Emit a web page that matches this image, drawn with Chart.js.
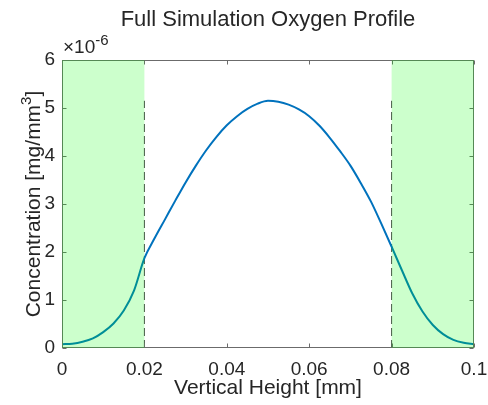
<!DOCTYPE html>
<html>
<head>
<meta charset="utf-8">
<title>Full Simulation Oxygen Profile</title>
<script src="https://cdn.jsdelivr.net/npm/chart.js@4.4.1/dist/chart.umd.min.js"></script>
<style>
  html, body { margin: 0; padding: 0; background: #fff; }
  #wrap { width: 488px; height: 405px; }
</style>
</head>
<body>
<div id="wrap"><canvas id="profile" width="488" height="405"></canvas></div>
<script>
  // Oxygen concentration across the domain height (values in 1e-6 mg/mm^3),
  // one sample every 0.0025 mm.
  const heightMm = [0, 0.0025, 0.005, 0.0075, 0.01, 0.0125, 0.015, 0.0175, 0.02,
    0.0225, 0.025, 0.0275, 0.03, 0.0325, 0.035, 0.0375, 0.04, 0.0425, 0.045, 0.0475,
    0.05, 0.0525, 0.055, 0.0575, 0.06, 0.0625, 0.065, 0.0675, 0.07, 0.0725, 0.075,
    0.0775, 0.08, 0.0825, 0.085, 0.0875, 0.09, 0.0925, 0.095, 0.0975, 0.1];
  const concentration = [0.08, 0.09, 0.13, 0.2, 0.33, 0.51, 0.78, 1.2, 1.87,
    2.29, 2.68, 3.07, 3.45, 3.8, 4.12, 4.4, 4.64, 4.83, 4.98, 5.09,
    5.15, 5.13, 5.07, 4.97, 4.83, 4.63, 4.38, 4.1, 3.8, 3.44, 3.05,
    2.59, 2.11, 1.62, 1.14, 0.76, 0.48, 0.29, 0.17, 0.11, 0.08];

  const xTicks = [0, 0.02, 0.04, 0.06, 0.08, 0.1];
  const yTicks = [0, 1, 2, 3, 4, 5, 6];

  // Boundary layers (shaded) and the interface positions (dashed)
  const boundaryZones = [[0, 0.02], [0.08, 0.1]];
  const interfaces = [0.02, 0.08];

  const FONT = "'Liberation Sans', Arial, Helvetica, sans-serif";
  const TEXT = "#262626";
  const AXIS = "#6b6b6b";
  const peak = Math.max(...concentration);

  const profilePoints = heightMm.map((x, i) => ({ x: x, y: concentration[i] }));

  const interfaceSets = interfaces.map((x) => ({
    data: [{ x: x, y: 0 }, { x: x, y: peak }],
    showLine: true,
    borderColor: "#4a4a4a",
    borderWidth: 1,
    borderDash: [8, 4],
    pointRadius: 0,
  }));

  // Box, inward ticks, translucent patches and the text around the axes
  const matlabLook = {
    id: "matlabLook",
    afterDatasetsDraw(chart) {
      const ctx = chart.ctx;
      const a = chart.chartArea;
      const xs = chart.scales.x;
      const ys = chart.scales.y;
      const L = Math.round(a.left) + 0.5, R = Math.round(a.right) - 0.5;
      const T = Math.round(a.top) + 0.5, B = Math.round(a.bottom) - 0.5;

      ctx.save();
      ctx.strokeStyle = AXIS;
      ctx.lineWidth = 1;
      ctx.strokeRect(L, T, R - L, B - T);
      ctx.beginPath();
      xTicks.forEach((v) => {
        const px = Math.round(xs.getPixelForValue(v)) + 0.5;
        ctx.moveTo(px, B); ctx.lineTo(px, B - 4);
        ctx.moveTo(px, T); ctx.lineTo(px, T + 4);
      });
      yTicks.forEach((v) => {
        const py = Math.round(ys.getPixelForValue(v)) + 0.5;
        ctx.moveTo(L, py); ctx.lineTo(L + 4, py);
        ctx.moveTo(R, py); ctx.lineTo(R - 4, py);
      });
      ctx.stroke();

      // green patches go on top, tinting the curve beneath them
      ctx.fillStyle = "rgba(0, 255, 0, 0.2)";
      boundaryZones.forEach(([x0, x1]) => {
        const p0 = xs.getPixelForValue(x0);
        const p1 = xs.getPixelForValue(x1);
        const top = ys.getPixelForValue(ys.max);
        const bot = ys.getPixelForValue(ys.min);
        ctx.fillRect(p0, top, p1 - p0, bot - top);
      });
      ctx.restore();
    },
    afterDraw(chart) {
      const ctx = chart.ctx;
      const a = chart.chartArea;
      const cx = (a.left + a.right) / 2;
      const cy = (a.top + a.bottom) / 2;
      ctx.save();
      ctx.fillStyle = TEXT;
      ctx.textBaseline = "alphabetic";

      // title
      ctx.font = "22px " + FONT;
      ctx.textAlign = "center";
      ctx.fillText("Full Simulation Oxygen Profile", cx, 26);

      // x label
      ctx.font = "21px " + FONT;
      ctx.fillText("Vertical Height [mm]", cx, 394);

      // y label with superscript
      ctx.translate(40, cy);
      ctx.rotate(-Math.PI / 2);
      ctx.textAlign = "left";
      const main = "Concentration [mg/mm";
      ctx.font = "21px " + FONT;
      const w1 = ctx.measureText(main).width;
      const w3 = ctx.measureText("]").width;
      ctx.font = "15px " + FONT;
      const w2 = ctx.measureText("3").width;
      const x0 = -(w1 + w2 + w3) / 2;
      ctx.font = "21px " + FONT;
      ctx.fillText(main, x0, 0);
      ctx.font = "15px " + FONT;
      ctx.fillText("3", x0 + w1, -9);
      ctx.font = "21px " + FONT;
      ctx.fillText("]", x0 + w1 + w2, 0);
      ctx.restore();

      // exponent above the y axis
      ctx.save();
      ctx.fillStyle = TEXT;
      ctx.textAlign = "left";
      ctx.font = "19px " + FONT;
      ctx.fillText("\u00d710", a.left + 1, 53);
      const wx = ctx.measureText("\u00d710").width;
      ctx.font = "15px " + FONT;
      ctx.fillText("-6", a.left + 1 + wx, 45);
      ctx.restore();
    },
  };

  new Chart(document.getElementById("profile"), {
    type: "scatter",
    data: {
      datasets: [
        {
          data: profilePoints,
          showLine: true,
          borderColor: "#0072BD",
          borderWidth: 2,
          pointRadius: 0,
          cubicInterpolationMode: "monotone",
        },
        ...interfaceSets,
      ],
    },
    options: {
      responsive: false,
      animation: false,
      devicePixelRatio: 1,
      layout: { padding: { left: 0, right: 14, top: 60, bottom: 0 } },
      plugins: { legend: { display: false }, tooltip: { enabled: false }, title: { display: false } },
      scales: {
        x: {
          type: "linear",
          min: 0,
          max: 0.1,
          grid: { display: false, drawTicks: false },
          border: { display: false },
          afterBuildTicks: (s) => { s.ticks = xTicks.map((v) => ({ value: v })); },
          afterFit: (s) => { s.height = 57; s.paddingLeft = 0; s.paddingRight = 0; },
          ticks: {
            color: TEXT,
            padding: 10,
            maxRotation: 0,
            font: { family: FONT, size: 19 },
            callback: (v) => String(v),
          },
        },
        y: {
          type: "linear",
          min: 0,
          max: 6,
          grid: { display: false, drawTicks: false },
          border: { display: false },
          afterBuildTicks: (s) => { s.ticks = yTicks.map((v) => ({ value: v })); },
          afterFit: (s) => { s.width = 62; s.paddingTop = 0; s.paddingBottom = 0; },
          ticks: {
            color: TEXT,
            padding: 7,
            font: { family: FONT, size: 19 },
            callback: (v) => String(v),
          },
        },
      },
    },
    plugins: [matlabLook],
  });
</script>
</body>
</html>
